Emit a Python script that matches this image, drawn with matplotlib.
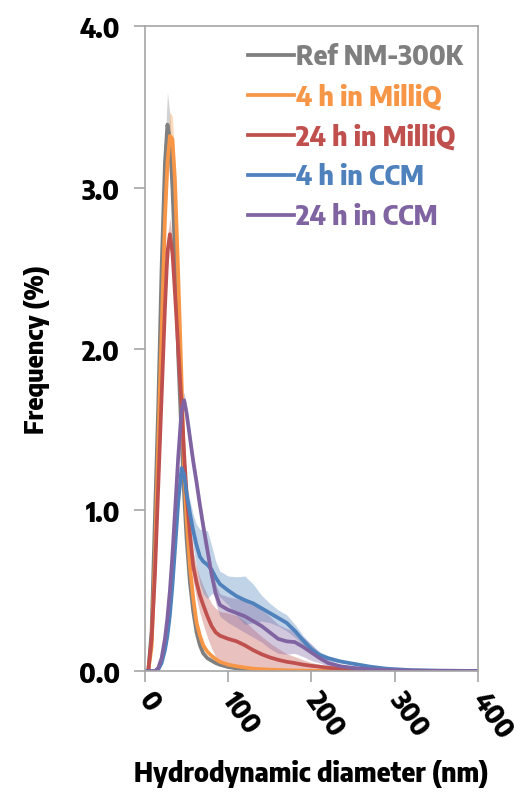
import matplotlib
matplotlib.use("Agg")
import matplotlib.pyplot as plt
import numpy as np

plt.rcParams['font.family'] = ['Encode Sans Semi Condensed', 'Roboto Condensed', 'DejaVu Sans']
plt.rcParams['font.weight'] = 'bold'

# hydrodynamic diameter grid (nm)
size_nm = [0, 4, 8, 12, 16, 20, 24, 27, 30, 33, 36, 40, 44, 47, 50, 54, 58, 62, 66, 70, 75, 80,
           85, 90, 100, 110, 120, 130, 140, 150, 160, 170, 180, 190, 200, 210, 220, 235, 250,
           270, 290, 320, 350, 400]

labels = ["Ref NM-300K", "4 h in MilliQ", "24 h in MilliQ", "4 h in CCM", "24 h in CCM"]
colors = ["#7f7f7f", "#f79646", "#c0504d", "#4f81bd", "#8064a2"]

ref = [0, 0, 0.25, 0.95, 1.65, 2.5, 3.15, 3.39, 3.3, 3.0, 2.6, 1.95, 1.45, 1.1, 0.82, 0.55,
       0.37, 0.24, 0.16, 0.11, 0.08, 0.065, 0.05, 0.04, 0.025, 0.017, 0.012, 0.008, 0.005,
       0.004, 0.003, 0.002, 0.001, 0, 0, 0, 0, 0, 0, 0, 0, 0, 0, 0]
milliq_4h = [0, 0, 0.15, 0.7, 1.4, 2.1, 2.8, 3.15, 3.32, 3.3, 3.05, 2.45, 1.8, 1.25, 0.95, 0.65,
             0.45, 0.3, 0.22, 0.16, 0.12, 0.095, 0.075, 0.058, 0.04, 0.03, 0.022, 0.015, 0.012,
             0.009, 0.007, 0.005, 0.004, 0.003, 0.002, 0.001, 0, 0, 0, 0, 0, 0, 0, 0]
milliq_24h = [0, 0, 0.2, 0.6, 1.15, 1.7, 2.25, 2.6, 2.71, 2.6, 2.35, 2.0, 1.65, 1.35, 1.1, 0.85,
              0.65, 0.55, 0.47, 0.41, 0.34, 0.28, 0.24, 0.22, 0.2, 0.185, 0.16, 0.13, 0.105,
              0.085, 0.07, 0.058, 0.05, 0.04, 0.033, 0.027, 0.021, 0.015, 0.011, 0.007, 0.004,
              0.002, 0.001, 0]
ccm_4h = [0, 0, 0, 0, 0.01, 0.05, 0.13, 0.22, 0.35, 0.53, 0.75, 1.05, 1.26, 1.22, 1.1, 0.98,
          0.87, 0.78, 0.71, 0.68, 0.66, 0.63, 0.58, 0.54, 0.5, 0.465, 0.44, 0.42, 0.39, 0.36,
          0.33, 0.3, 0.25, 0.19, 0.135, 0.1, 0.08, 0.06, 0.046, 0.028, 0.015, 0.006, 0.003,
          0.001]
ccm_24h = [0, 0, 0, 0, 0.02, 0.08, 0.2, 0.33, 0.5, 0.72, 0.98, 1.33, 1.62, 1.68, 1.6, 1.45,
           1.3, 1.17, 1.03, 0.9, 0.75, 0.6, 0.48, 0.41, 0.38, 0.36, 0.34, 0.31, 0.28, 0.24, 0.2,
           0.185, 0.18, 0.15, 0.115, 0.08, 0.05, 0.03, 0.02, 0.012, 0.007, 0.003, 0.002, 0.001]

# standard deviation bands
ref_sd = [0, 0, 0.02, 0.03, 0.04, 0.05, 0.1, 0.2, 0.15, 0.1, 0.07, 0.05, 0.04, 0.03, 0.03,
          0.02, 0.02, 0.02, 0.01, 0.01, 0.01, 0.01, 0.01, 0.01,
          0, 0, 0, 0, 0, 0, 0, 0, 0, 0, 0, 0, 0, 0, 0, 0, 0, 0, 0, 0]
milliq_4h_sd = [0, 0, 0.02, 0.03, 0.04, 0.05, 0.08, 0.12, 0.15, 0.14, 0.1, 0.07, 0.05, 0.04,
                0.03, 0.03, 0.02, 0.02, 0.02, 0.01, 0.01, 0.01, 0.01, 0.01,
                0, 0, 0, 0, 0, 0, 0, 0, 0, 0, 0, 0, 0, 0, 0, 0, 0, 0, 0, 0]
milliq_24h_sd = [0, 0, 0.02, 0.04, 0.05, 0.06, 0.08, 0.1, 0.1, 0.09, 0.08, 0.06, 0.06, 0.06,
                 0.07, 0.08, 0.09, 0.1, 0.11, 0.12, 0.13, 0.14, 0.15, 0.15,
                 0.16, 0.16, 0.15, 0.13, 0.11, 0.09, 0.07, 0.05, 0.04, 0.03, 0.02, 0.015, 0.01,
                 0.005, 0, 0, 0, 0, 0, 0]
ccm_4h_sd = [0, 0, 0, 0, 0, 0.01, 0.02, 0.03, 0.04, 0.05, 0.05, 0.05, 0.05, 0.05, 0.06, 0.08,
             0.1, 0.13, 0.17, 0.2, 0.21, 0.15, 0.1, 0.08,
             0.09, 0.12, 0.15, 0.12, 0.08, 0.06, 0.05, 0.05, 0.04, 0.03, 0.03, 0.02, 0.015,
             0.01, 0.005, 0, 0, 0, 0, 0]
ccm_24h_sd = [0, 0, 0, 0, 0.01, 0.02, 0.03, 0.04, 0.05, 0.05, 0.05, 0.05, 0.05, 0.05, 0.05,
              0.05, 0.05, 0.05, 0.05, 0.05, 0.05, 0.05, 0.06, 0.07,
              0.08, 0.09, 0.1, 0.1, 0.1, 0.1, 0.09, 0.08, 0.07, 0.06, 0.05, 0.03, 0.02, 0.01,
              0.005, 0, 0, 0, 0, 0]

series = [ref, milliq_4h, milliq_24h, ccm_4h, ccm_24h]
bands = [ref_sd, milliq_4h_sd, milliq_24h_sd, ccm_4h_sd, ccm_24h_sd]

fig = plt.figure(figsize=(5.14, 8.03), dpi=100)
ax = fig.add_axes([0.282, 0.163, 0.648, 0.803])

x = np.array(size_nm)
for y, sd, c in zip(series, bands, colors):
    y = np.array(y)
    sd = np.array(sd)
    ax.fill_between(x, np.clip(y - sd, 0, None), y + sd, color=c, alpha=0.35, lw=0)
for y, c, lab in zip(series, colors, labels):
    ax.plot(x, y, color=c, lw=2.7, label=lab, solid_joinstyle='round')

ax.set_xlim(0, 400)
ax.set_ylim(0, 4.0)
ax.set_yticks([0, 1, 2, 3, 4])
ax.set_yticklabels(["0.0", "1.0", "2.0", "3.0", "4.0"], fontsize=19, fontweight='heavy')
ax.set_xticks([0, 100, 200, 300, 400])
ax.set_xticklabels(["0", "100", "200", "300", "400"], fontsize=19, fontweight='heavy',
                   rotation=-55, rotation_mode='anchor', ha='left', va='center')

for s in ax.spines.values():
    s.set_color("#a6a6a6")
    s.set_linewidth(1.2)
ax.tick_params(axis='both', direction='out', length=8, width=1.2, color="#a6a6a6",
               labelcolor='black')
ax.tick_params(axis='x', pad=9)
ax.tick_params(axis='y', pad=10)

ax.set_xlabel("Hydrodynamic diameter (nm)", fontsize=19, fontweight='heavy', labelpad=11)
ax.set_ylabel("Frequency (%)", fontsize=18, fontweight='heavy', labelpad=21)

leg = ax.legend(loc='upper right', bbox_to_anchor=(0.955, 0.975), frameon=False,
                fontsize=19, labelcolor='linecolor', handlelength=1.75, handletextpad=0.1,
                labelspacing=0.45, borderpad=0, borderaxespad=0)
for t in leg.get_texts():
    t.set_fontweight('heavy')

fig.savefig("out.png", dpi=100)
